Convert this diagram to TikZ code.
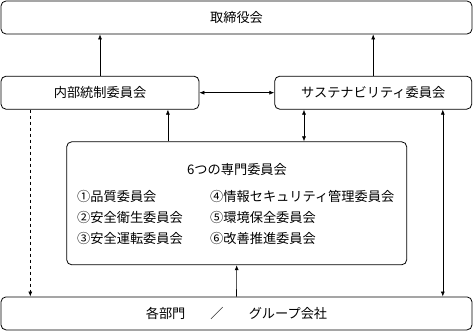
\documentclass[tikz,border=0pt]{standalone}
\usepackage{fontspec}
\setmainfont{Noto Sans CJK JP}
\usetikzlibrary{arrows.meta}

\begin{document}
\begin{tikzpicture}[x=1pt, y=-1pt, font=\fontsize{13.2}{16}\selectfont,
    box/.style={draw, line width=0.8pt, rounded corners=5pt, inner sep=0pt},
    item/.style={anchor=west, inner sep=0pt},
    link/.style={line width=0.6pt}, >={Latex[length=5pt,width=4pt]}]
  \useasboundingbox (0,0) rectangle (473,331);

  \node[box, minimum width=471pt, minimum height=33pt] (board) at (236.5,17.5) {取締役会};
  \node[box, minimum width=198pt, minimum height=33pt] (naibu) at (100,92.7) {内部統制委員会};
  \node[box, minimum width=197pt, minimum height=33pt] (sustain) at (373.2,92.7) {サステナビリティ委員会};
  \node[box, minimum width=340pt, minimum height=123pt] (senmon) at (236.7,203.3) {};
  \node[box, minimum width=471pt, minimum height=33pt] (bumon) at (236.5,313.4)
    {各部門\hspace{1.9em}／\hspace{1.9em}グループ会社};

  % committees inside
  \node[inner sep=0pt] (title) at (237,170) {6つの専門委員会};
  \node[item] (c1) at (77,196) {①品質委員会};
  \node[item] (c2) at (77,217) {②安全衛生委員会};
  \node[item] (c3) at (77,238) {③安全運転委員会};
  \node[item] (c4) at (210,196) {④情報セキュリティ管理委員会};
  \node[item] (c5) at (210,217) {⑤環境保全委員会};
  \node[item] (c6) at (210,238) {⑥改善推進委員会};

  % reporting lines
  \draw[link, ->] (naibu.north) -- (naibu.north |- board.south);
  \draw[link, ->] (sustain.north) -- (sustain.north |- board.south);
  \draw[link, <->] (naibu.east) -- (sustain.west);
  \draw[link, ->, dashed] ([xshift=29.7pt]naibu.south west) -- ([xshift=29.7pt]naibu.south west |- bumon.north);
  \draw[link, ->] ([xshift=101.6pt]senmon.north west) -- ([xshift=101.6pt]senmon.north west |- naibu.south);
  \draw[link, <->] ([xshift=29.7pt]sustain.south west) -- ([xshift=29.7pt]sustain.south west |- senmon.north);
  \draw[link, <->] ([xshift=-29.3pt]sustain.south east) -- ([xshift=-29.3pt]sustain.south east |- bumon.north);
  \draw[link, ->] (bumon.north) -- (senmon.south);
\end{tikzpicture}
\end{document}
